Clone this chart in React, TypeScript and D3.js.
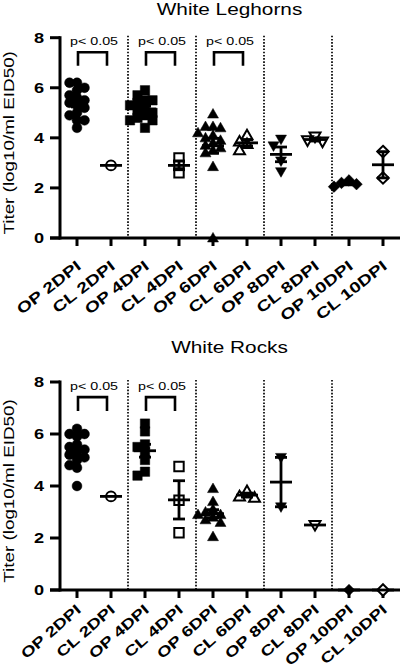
import React from "react";
import * as d3 from "d3";

const categories = ["OP 2DPI", "CL 2DPI", "OP 4DPI", "CL 4DPI", "OP 6DPI", "CL 6DPI", "OP 8DPI", "CL 8DPI", "OP 10DPI", "CL 10DPI"];
const markerShapes = ["circle", "circle", "square", "square", "triangle", "triangle", "triangleDown", "triangleDown", "diamond", "diamond"];
const markerFilled = [true, false, true, false, true, false, true, false, true, false];
const yTicks = [0, 2, 4, 6, 8];

const leghornValues: number[][] = [
  [6.2, 6.2, 6.0, 5.9, 5.7, 5.6, 5.5, 5.4, 5.3, 5.2, 5.0, 4.9, 4.7, 4.7, 4.4],
  [2.9],
  [5.9, 5.7, 5.5, 5.5, 5.4, 5.3, 5.2, 5.1, 5.0, 4.9, 4.8, 4.7, 4.7, 4.4],
  [3.2, 2.9, 2.6],
  [4.95, 4.45, 4.4, 4.45, 4.2, 4.1, 4.0, 3.9, 3.8, 3.7, 3.6, 3.5, 3.4, 2.85, 0],
  [4.1, 3.85, 3.75, 3.5],
  [3.95, 3.68, 3.08, 2.65],
  [4.05, 3.9, 3.85],
  [2.3, 2.2, 2.15, 2.05],
  [3.45, 2.4],
];

const rockValues: number[][] = [
  [6.2, 6.0, 6.0, 5.9, 5.6, 5.5, 5.4, 5.3, 5.2, 5.1, 5.0, 4.8, 4.7, 4.0],
  [3.6],
  [6.4, 6.1, 5.6, 5.5, 5.3, 5.0, 4.55, 4.4],
  [4.75, 3.45, 2.2],
  [3.9, 3.4, 3.1, 3.0, 2.9, 2.9, 2.8, 2.7, 2.6, 2.05],
  [3.8, 3.6, 3.55],
  [5.1, 3.2],
  [2.5],
  [0],
  [0],
];

const leghornSig = [0, 2, 4];
const rockSig = [0, 2];
const sigLabel = "p< 0.05";
const yLabel = "Titer (log10/ml EID50)";

const FONT = "'Liberation Sans', Arial, sans-serif";
const SX = 1.3;

function markerPath(shape: string): string {
  switch (shape) {
    case "circle": {
      const r = 4.9;
      return `M${-r},0A${r},${r},0,1,0,${r},0A${r},${r},0,1,0,${-r},0Z`;
    }
    case "square":
      return "M-4.7,-4.7H4.7V4.7H-4.7Z";
    case "triangle":
      return "M0,-5.6L5.5,4L-5.5,4Z";
    case "triangleDown":
      return "M0,5.6L5.5,-4L-5.5,-4Z";
    default:
      return "M0,-5.8L5.8,0L0,5.8L-5.8,0Z";
  }
}

function swarm(vals: number[], cx: number, y: (v: number) => number) {
  const order = vals.map((v) => v).sort((a, b) => b - a);
  const step = 7.5;
  const minDy = 7;
  const placed: { x: number; y: number }[] = [];
  const ks = [0, -1, 1, -2, 2, -3, 3];
  for (const v of order) {
    const py = y(v);
    let px = cx;
    for (const k of ks) {
      const cand = cx + k * step;
      if (!placed.some((p) => Math.abs(p.x - cand) < step - 0.5 && Math.abs(p.y - py) < minDy)) {
        px = cand;
        break;
      }
    }
    placed.push({ x: px, y: py });
  }
  return placed;
}

type PanelProps = {
  title: string;
  values: number[][];
  sig: number[];
  top: number;
  bottom: number;
  titleY: number;
  labelAngle: number;
  labelDy: number;
  labelSize: number;
};

function Panel({ title, values, sig, top, bottom, titleY, labelAngle, labelDy, labelSize }: PanelProps) {
  const x = d3.scaleBand().domain(categories).range([60, 400]);
  const cx = (i: number) => (x(categories[i]) as number) + x.bandwidth() / 2;
  const y = d3.scaleLinear().domain([0, 8]).range([bottom, top]);
  const axisLeft = 60;
  return (
    <g>
      <text transform={`translate(229.5,${titleY}) scale(${SX},1)`} textAnchor="middle" fontFamily={FONT} fontSize={16} fill="#000">
        {title}
      </text>
      {/* separators */}
      {[1, 2, 3, 4].map((k) => {
        const sx = (cx(2 * k - 1) + cx(2 * k)) / 2;
        return <line key={k} x1={sx} x2={sx} y1={y(8) - 2} y2={bottom} stroke="#000" strokeWidth={1.7} strokeDasharray="1.6 1.6" />;
      })}
      {/* y axis */}
      <line x1={axisLeft} x2={axisLeft} y1={y(8) - 1.5} y2={bottom + 1.5} stroke="#000" strokeWidth={3} />
      {yTicks.map((t) => (
        <g key={t}>
          <line x1={axisLeft - 10} x2={axisLeft} y1={y(t)} y2={y(t)} stroke="#000" strokeWidth={3} />
          <text transform={`translate(44,${y(t)}) scale(${SX},1)`} dy="0.36em" textAnchor="end" fontFamily={FONT} fontWeight="bold" fontSize={14} fill="#000">
            {t}
          </text>
        </g>
      ))}
      <text transform={`translate(13.5,${(y(8) + bottom) / 2 + 5}) rotate(-90) scale(${SX},1)`} textAnchor="middle" fontFamily={FONT} fontSize={14.5} fill="#000">
        {yLabel}
      </text>
      {/* x axis */}
      <line x1={50} x2={400} y1={bottom} y2={bottom} stroke="#000" strokeWidth={3} />
      {categories.map((c, i) => (
        <g key={c}>
          <line x1={cx(i)} x2={cx(i)} y1={bottom} y2={bottom + 8} stroke="#000" strokeWidth={3} />
          <text
            transform={`translate(${cx(i) + 5},${bottom + labelDy}) rotate(${-labelAngle}) scale(${SX},1)`}
            textAnchor="end"
            fontFamily={FONT}
            fontWeight="bold"
            fontSize={labelSize}
            fill="#000"
          >
            {c}
          </text>
        </g>
      ))}
      {/* points */}
      {values.map((vals, i) => {
        const pts = swarm(vals, cx(i), y);
        return (
          <g key={i}>
            {pts.map((p, j) => (
              <path
                key={j}
                d={markerPath(markerShapes[i])}
                transform={`translate(${p.x},${p.y})`}
                fill={markerFilled[i] ? "#000" : "#fff"}
                stroke="#000"
                strokeWidth={markerFilled[i] ? 0.5 : 2}
              />
            ))}
          </g>
        );
      })}
      {/* mean +- SEM */}
      {values.map((vals, i) => {
        const m = d3.mean(vals) as number;
        const sem = vals.length > 1 ? (d3.deviation(vals) as number) / Math.sqrt(vals.length) : 0;
        const c = cx(i);
        return (
          <g key={i} stroke="#000" strokeWidth={2.8}>
            <line x1={c - 11} x2={c + 11} y1={y(m)} y2={y(m)} />
            {sem > 0 && (
              <>
                <line x1={c} x2={c} y1={y(m + sem)} y2={y(m - sem)} />
                <line x1={c - 6} x2={c + 6} y1={y(m + sem)} y2={y(m + sem)} />
                <line x1={c - 6} x2={c + 6} y1={y(m - sem)} y2={y(m - sem)} />
              </>
            )}
          </g>
        );
      })}
      {/* significance */}
      {sig.map((i) => {
        const l = cx(i) + 1;
        const r = cx(i + 1) - 4;
        return (
          <g key={i}>
            <path d={`M${l},${y(6.88)}V${y(7.42)}H${r}V${y(6.88)}`} fill="none" stroke="#000" strokeWidth={2.6} />
            <text transform={`translate(${(cx(i) + cx(i + 1)) / 2},${y(7.7)}) scale(${SX},1)`} textAnchor="middle" fontFamily={FONT} fontSize={11} fill="#000">
              {sigLabel}
            </text>
          </g>
        );
      })}
    </g>
  );
}

export default function App() {
  return (
    <svg width={400} height={670} viewBox="0 0 400 670" style={{ position: "absolute", left: 0, top: 0, background: "#fff" }}>
      <rect x={0} y={0} width={400} height={670} fill="#fff" />
      <Panel title="White Leghorns" values={leghornValues} sig={leghornSig} top={37.7} bottom={238} titleY={14.5} labelAngle={38} labelDy={30} labelSize={15} />
      <Panel title="White Rocks" values={rockValues} sig={rockSig} top={382} bottom={590} titleY={352.5} labelAngle={41} labelDy={21} labelSize={14.5} />
    </svg>
  );
}
